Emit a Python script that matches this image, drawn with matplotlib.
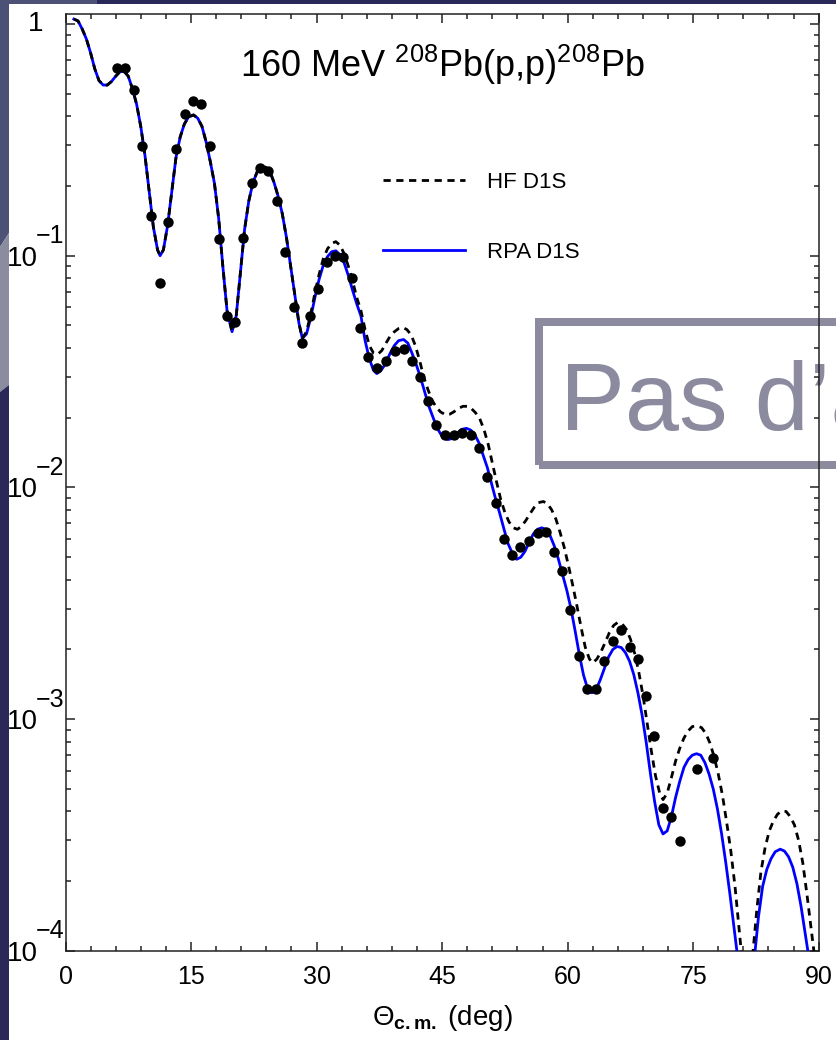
import matplotlib
matplotlib.use('Agg')
import matplotlib.pyplot as plt
from matplotlib import transforms
from matplotlib.patches import Rectangle, Polygon
from matplotlib.ticker import MultipleLocator, LogLocator, NullFormatter
import numpy as np

plt.rcParams['font.family'] = ['Liberation Sans', 'DejaVu Sans']
plt.rcParams['mathtext.fontset'] = 'custom'
plt.rcParams['mathtext.rm'] = 'Liberation Sans'
plt.rcParams['mathtext.it'] = 'Liberation Sans'
plt.rcParams['mathtext.bf'] = 'Liberation Sans:bold'

# forward angles: HF and RPA give the same cross section
theta_low = [1.0, 1.5, 2.0, 2.5, 3.0, 3.5, 4.0, 4.5, 5.0, 5.5, 6.0, 6.5, 7.0, 7.5,
             8.0, 8.5, 9.0, 9.5, 10.0, 10.5, 11.0, 11.3, 11.7, 12.2, 12.7, 13.2,
             13.7, 14.2, 14.7, 15.3, 15.8, 16.3, 16.8, 17.3, 17.8, 18.3, 18.8,
             19.3, 19.9, 20.4, 20.9, 21.4, 21.9, 22.4, 22.9, 23.4, 23.9, 24.4,
             24.9, 25.4, 25.9, 26.4, 26.9, 27.4, 27.9, 28.3]
sigma_low = [1.05, 1.03, 0.95, 0.86, 0.75, 0.64, 0.57, 0.545, 0.545, 0.565, 0.595,
             0.622, 0.625, 0.595, 0.525, 0.45, 0.36, 0.27, 0.19, 0.133, 0.106, 0.1,
             0.106, 0.135, 0.19, 0.265, 0.325, 0.37, 0.397, 0.405, 0.392, 0.362,
             0.31, 0.255, 0.205, 0.145, 0.09, 0.058, 0.047, 0.055, 0.085, 0.13,
             0.172, 0.207, 0.23, 0.24, 0.241, 0.232, 0.208, 0.181, 0.152, 0.12,
             0.09, 0.067, 0.051, 0.044]

# RPA D1S beyond 28 deg (nan = dips below the plotted range)
theta_rpa_hi = [28.8, 29.3, 29.8, 30.3, 30.8, 31.3, 31.8, 32.3, 32.8, 33.3, 33.8,
                34.3, 34.8, 35.3, 35.8, 36.3, 36.8, 37.2, 37.7, 38.2, 38.8, 39.3,
                39.8, 40.4, 40.9, 41.4, 41.9, 42.4, 42.9, 43.4, 44.0, 44.5, 45.1,
                45.7, 46.3, 46.8, 47.3, 47.9, 48.4, 48.9, 49.4, 49.9, 50.4, 50.9,
                51.4, 51.9, 52.4, 52.9, 53.4, 53.9, 54.4, 54.9, 55.4, 55.9, 56.4,
                56.9, 57.4, 57.9, 58.4, 58.9, 59.4, 59.9, 60.4, 60.9, 61.4, 61.9,
                62.4, 62.9, 63.4, 63.9, 64.4, 64.9, 65.4, 65.9, 66.4, 66.9, 67.4,
                67.9, 68.4, 68.9, 69.4, 69.9, 70.4, 70.9, 71.4, 71.9, 72.4, 72.9,
                73.4, 73.9, 74.4, 74.9, 75.4, 75.9, 76.4, 76.9, 77.4, 77.9, 78.4,
                78.9, 79.4, 79.9, 80.3, np.nan, 82.3, 82.8, 83.3, 83.8, 84.3, 84.8,
                85.4, 85.9, 86.4, 86.9, 87.4, 87.9, 88.4, 88.8]
sigma_rpa_hi = [0.046, 0.054, 0.066, 0.079, 0.091, 0.099, 0.104, 0.105, 0.101,
                0.093, 0.082, 0.071, 0.062, 0.055, 0.043, 0.036, 0.032, 0.031,
                0.032, 0.034, 0.038, 0.041, 0.043, 0.0435, 0.042, 0.038, 0.034,
                0.030, 0.026, 0.0225, 0.0197, 0.0178, 0.0164, 0.0161, 0.0163,
                0.0171, 0.0178, 0.018, 0.0177, 0.0169, 0.0156, 0.0138, 0.0122,
                0.0104, 0.0089, 0.0077, 0.0066, 0.0057, 0.0052, 0.0049, 0.0050,
                0.0053, 0.0058, 0.0063, 0.0066, 0.0067, 0.0066, 0.0062, 0.0056,
                0.0049, 0.0042, 0.0036, 0.0030, 0.0024, 0.0019, 0.00155, 0.00135,
                0.0013, 0.00134, 0.00148, 0.00166, 0.00186, 0.0020, 0.00206,
                0.00204, 0.00194, 0.00178, 0.00156, 0.0013, 0.00104, 0.00079,
                0.00058, 0.00044, 0.00035, 0.00032, 0.00033, 0.00038, 0.00046,
                0.00054, 0.00062, 0.00067, 0.0007, 0.00071, 0.0007, 0.00065,
                0.00058, 0.0005, 0.00041, 0.00032, 0.00024, 0.000175, 0.000125,
                0.000095, np.nan, 0.000092, 0.00014, 0.00019, 0.000225, 0.00025,
                0.000268, 0.000275, 0.00027, 0.000255, 0.00023, 0.000195,
                0.000155, 0.000118, 0.000095]

# HF D1S beyond 28 deg
theta_hf_hi = [28.8, 29.3, 29.8, 30.3, 30.8, 31.3, 31.8, 32.3, 32.8, 33.3, 33.8,
               34.3, 34.8, 35.3, 35.8, 36.3, 36.8, 37.3, 37.8, 38.3, 38.8, 39.3,
               39.8, 40.3, 40.8, 41.3, 41.8, 42.3, 42.8, 43.3, 43.8, 44.3, 44.8,
               45.4, 45.9, 46.4, 46.9, 47.5, 48.0, 48.5, 49.0, 49.5, 50.0, 50.5,
               51.0, 51.5, 52.0, 52.5, 53.0, 53.5, 54.0, 54.5, 55.0, 55.5, 56.0,
               56.5, 57.1, 57.6, 58.1, 58.6, 59.1, 59.6, 60.1, 60.6, 61.1, 61.6,
               62.1, 62.6, 63.0, 63.5, 64.0, 64.5, 65.0, 65.5, 66.0, 66.5, 67.0,
               67.5, 68.0, 68.5, 69.0, 69.5, 70.0, 70.5, 71.0, 71.4, 71.9, 72.4,
               72.9, 73.4, 73.9, 74.4, 74.9, 75.5, 76.0, 76.5, 77.0, 77.5, 78.0,
               78.5, 79.0, 79.5, 80.0, 80.4, 80.8, np.nan, 82.1, 82.6, 83.1,
               83.6, 84.1, 84.6, 85.1, 85.6, 86.1, 86.6, 87.1, 87.6, 88.1, 88.6,
               89.1, 89.5]
sigma_hf_hi = [0.047, 0.056, 0.069, 0.083, 0.097, 0.107, 0.113, 0.115, 0.111,
               0.102, 0.09, 0.078, 0.066, 0.058, 0.048, 0.041, 0.038, 0.0375,
               0.039, 0.042, 0.045, 0.047, 0.0485, 0.049, 0.048, 0.0455, 0.041,
               0.0355, 0.030, 0.0265, 0.0238, 0.0222, 0.0212, 0.0206, 0.0207,
               0.0212, 0.0219, 0.0224, 0.0224, 0.0219, 0.021, 0.0198, 0.0178,
               0.0154, 0.0128, 0.0106, 0.0089, 0.0078, 0.0071, 0.0067, 0.0066,
               0.0068, 0.0072, 0.0077, 0.0082, 0.0086, 0.0087, 0.0085, 0.008,
               0.0073, 0.0064, 0.0055, 0.0046, 0.0038, 0.0031, 0.0025, 0.00205,
               0.00182, 0.00175, 0.00182, 0.00196, 0.00215, 0.00237, 0.00254,
               0.00262, 0.00258, 0.00245, 0.00222, 0.00193, 0.0016, 0.00127,
               0.00096, 0.00073, 0.00057, 0.00048, 0.00045, 0.00048, 0.00056,
               0.00066, 0.00075, 0.00083, 0.00089, 0.00093, 0.000935, 0.00092,
               0.00087, 0.00079, 0.00069, 0.00058, 0.00047, 0.00036, 0.00027,
               0.00019, 0.000135, 0.000095, np.nan, 0.000095, 0.00015, 0.00022,
               0.00028, 0.00033, 0.000365, 0.00039, 0.000402, 0.0004, 0.00038,
               0.00035, 0.0003, 0.00024, 0.000175, 0.000125, 0.000095]

# measured cross section
theta_exp = [6.2, 7.1, 8.2, 9.2, 10.2, 11.3, 12.2, 13.2, 14.3, 15.2, 16.2, 17.3,
             18.3, 19.3, 20.2, 21.2, 22.3, 23.3, 24.2, 25.3, 26.2, 27.3, 28.3,
             29.2, 30.2, 31.2, 32.2, 33.2, 34.2, 35.2, 36.2, 37.2, 38.3, 39.4,
             40.4, 41.4, 42.4, 43.3, 44.3, 45.4, 46.4, 47.4, 48.4, 49.4, 50.4,
             51.4, 52.4, 53.3, 54.3, 55.4, 56.4, 57.4, 58.4, 59.3, 60.3, 61.4,
             62.3, 63.4, 64.4, 65.4, 66.4, 67.4, 68.4, 69.4, 70.3, 71.4, 72.4,
             73.4, 75.4, 77.4]
sigma_exp = [0.646, 0.646, 0.52, 0.298, 0.149, 0.076, 0.14, 0.29, 0.41, 0.466,
             0.45, 0.298, 0.118, 0.055, 0.052, 0.119, 0.206, 0.239, 0.232, 0.172,
             0.104, 0.06, 0.042, 0.055, 0.072, 0.094, 0.1, 0.099, 0.08, 0.049,
             0.0366, 0.0328, 0.0352, 0.0388, 0.0396, 0.0352, 0.030, 0.0236,
             0.0186, 0.0168, 0.0168, 0.0172, 0.0168, 0.0148, 0.0111, 0.00857,
             0.0060, 0.0051, 0.00553, 0.00588, 0.00637, 0.0064, 0.00527, 0.00436,
             0.00296, 0.00187, 0.00135, 0.00135, 0.00178, 0.00218, 0.00243,
             0.00205, 0.00182, 0.00126, 0.000847, 0.000414, 0.000379, 0.000298,
             0.00061, 0.00068]

xticks = [0, 15, 30, 45, 60, 75, 90]
decades = [0, -1, -2, -3, -4]

theta_rpa = theta_low + theta_rpa_hi
sigma_rpa = sigma_low + sigma_rpa_hi
theta_hf = theta_low + theta_hf_hi
sigma_hf = sigma_low + sigma_hf_hi

W, H = 836, 1040
navy = '#2a2858'
slate = '#4b5276'
haze = '#8c8ca0'
boxgray = '#8b8a9e'


def fx(x):
    return x / W


def fy(y):
    return 1 - y / H


fig = plt.figure(figsize=(W / 100, H / 100), dpi=100, facecolor='white')

# slide background strips
fig.add_artist(Rectangle((0, fy(4)), 1, 4 / H, transform=fig.transFigure,
                         color=navy, lw=0))
fig.add_artist(Rectangle((0, fy(4)), fx(97), 4 / H, transform=fig.transFigure,
                         color=slate, lw=0))
strips = [
    (slate, [(0, 0), (9, 0), (9, 233), (0, 247)]),
    (haze, [(0, 247), (9, 233), (9, 385), (0, 392)]),
    (navy, [(0, 392), (9, 385), (9, 1040), (0, 1040)]),
]
for col, pts in strips:
    fig.add_artist(Polygon([(fx(a), fy(b)) for a, b in pts], closed=True,
                           transform=fig.transFigure, color=col, lw=0))

ax = fig.add_axes([fx(65.5), fy(951), fx(818.7 - 65.5), (951 - 14) / H])
ax.set_yscale('log')
ax.set_xlim(0, 90)
ax.set_ylim(1e-4, 1.104)

rpa_line, = ax.plot(theta_rpa, sigma_rpa, color='#0000ff', lw=2.0, zorder=3,
                    label='RPA D1S')
hf_line, = ax.plot(theta_hf, sigma_hf, color='black', lw=2.0, ls=(0, (2.6, 2.0)),
                   zorder=4, label='HF D1S')
ax.plot(theta_exp, sigma_exp, 'o', color='black', ms=7.5, mew=0, zorder=5)

for side in ax.spines.values():
    side.set_color('#222222')
    side.set_linewidth(1.1)

ax.set_xticks(xticks)
ax.xaxis.set_minor_locator(MultipleLocator(3))
ax.yaxis.set_major_locator(LogLocator(base=10))
ax.yaxis.set_minor_locator(LogLocator(base=10, subs=np.arange(2, 10)))
ax.yaxis.set_minor_formatter(NullFormatter())
ax.tick_params(which='both', direction='in', top=True, right=True,
               width=1.1, color='#222222')
ax.tick_params(which='major', length=6.5)
ax.tick_params(which='minor', length=3.6)
ax.tick_params(axis='x', labelsize=18, pad=10)
ax.tick_params(axis='y', labelleft=False)

# y labels: 1, 10^-1 ... with a large superscript
ytr = ax.get_yaxis_transform()
suptr = transforms.offset_copy(ytr, fig=fig, x=0, y=22 * 0.72, units='points')
for e in decades:
    if e == 0:
        ax.text((43 - 65.5) / 753.2, 10.0 ** e, '1', transform=ytr, ha='right',
                va='center', fontsize=20)
    else:
        ax.text((38 - 65.5) / 753.2, 10.0 ** e, '10', transform=ytr, ha='right',
                va='center_baseline', fontsize=20)
        ax.text((36 - 65.5) / 753.2, 10.0 ** e, '\u2212%d' % (-e), transform=suptr,
                ha='left', va='center_baseline', fontsize=18)

ax.set_xlabel(r'$\Theta_{\mathbf{c.m.}}$ (deg)', fontsize=20, labelpad=10)

ax.text(fx(442), fy(77), r'160 MeV $^{208}$Pb(p,p)$^{208}$Pb',
        transform=fig.transFigure, ha='center', va='baseline', fontsize=26)

ax.legend(handles=[hf_line, rpa_line], loc='upper left',
          bbox_to_anchor=((383 - 65.5) / 753.2, (951 - 172) / 937), frameon=False,
          fontsize=16, handlelength=3.7, handletextpad=1.0, labelspacing=2.2,
          borderpad=0, borderaxespad=0)

# overlay frame from the slide
ax.add_patch(Rectangle((fx(539), fy(465)), fx(400), (465 - 322) / H,
                       transform=fig.transFigure, fill=False, ec=boxgray,
                       lw=8 * 0.72, clip_on=False, zorder=2.2))
ax.text(fx(560), fy(430), 'Pas d\u2019a', transform=fig.transFigure,
        family=['Liberation Sans', 'DejaVu Sans'], fontsize=70, color=boxgray,
        ha='left', va='baseline', clip_on=False, zorder=2.2)

fig.savefig('out.png', dpi=100, facecolor='white')
